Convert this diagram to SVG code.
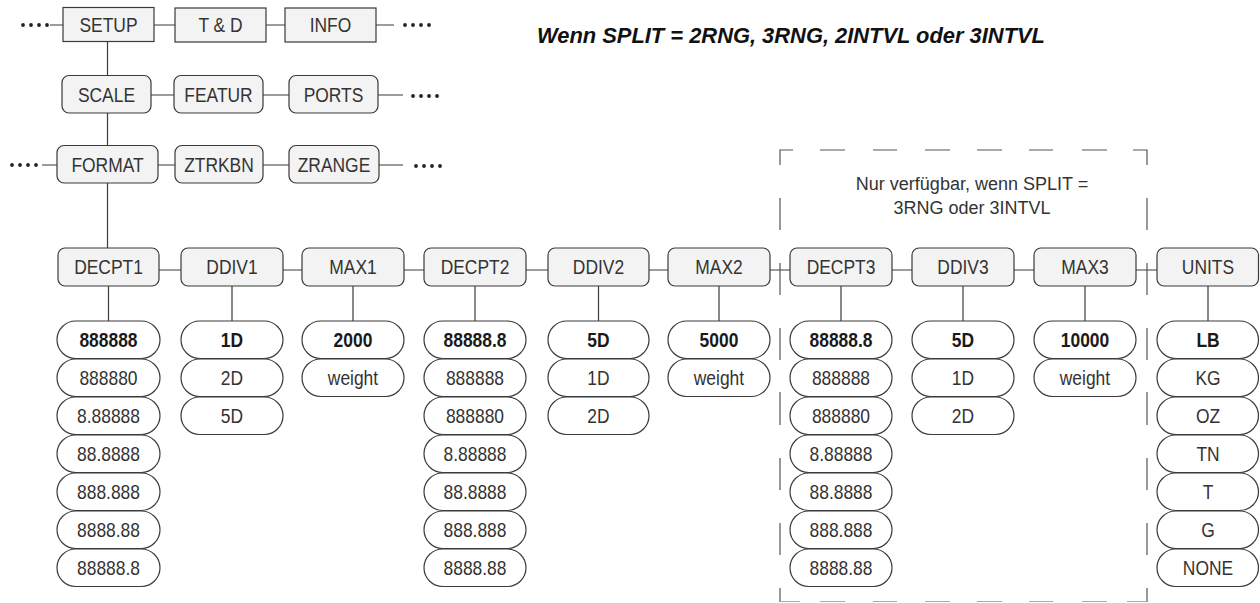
<svg xmlns="http://www.w3.org/2000/svg" width="1260" height="603" viewBox="0 0 1260 603">
<style>
.n{fill:#f3f3f3;stroke:#3a3a3a;stroke-width:1.2}
.p{fill:#fff;stroke:#3a3a3a;stroke-width:1.2}
.t{font-family:"Liberation Sans",Arial,sans-serif;font-size:20.5px;fill:#333;text-anchor:middle;transform-box:fill-box;transform-origin:center;transform:scaleX(0.85)}
.b{font-weight:bold;fill:#1a1a1a}
.c{stroke:#3a3a3a;stroke-width:1.2;fill:none}
.d{fill:#222}
.dash{stroke:#555;stroke-width:1.2;fill:none}
.note{font-family:"Liberation Sans",Arial,sans-serif;font-size:18px;fill:#333;text-anchor:middle}
.title{font-family:"Liberation Sans",Arial,sans-serif;font-size:22.5px;font-weight:bold;font-style:italic;fill:#111}
</style>
<defs>
<g id="dots"><circle cx="0" cy="0" r="1.9"/><circle cx="8" cy="0" r="1.9"/><circle cx="16" cy="0" r="1.9"/><circle cx="24" cy="0" r="1.9"/></g>
</defs>
<rect width="1260" height="603" fill="#fff"/>
<text class="title" x="537" y="43" textLength="508" lengthAdjust="spacingAndGlyphs">Wenn SPLIT = 2RNG, 3RNG, 2INTVL oder 3INTVL</text>

<g id="connectors">
<path class="c" d="M50 25H63M154 25H175M266 25H285M376 25H394"/>
<path class="c" d="M151 95H174M263 95H289M378 95H403"/>
<path class="c" d="M42 165H57M158 165H175M263 165H289M379 165H403"/>
<path class="c" d="M107.5 41V75M107.5 113V145M107.5 183V248"/>
<path class="c" d="M159 270H181M283 270H302M404 270H424M526 270H548M649 270H668M770 270H790M892 270H912M1014 270H1034M1136 270H1157"/>
<path class="c" d="M108.5 286V321M232 286V321M353 286V321M475 286V321M598.5 286V321M719 286V321M841 286V321M963 286V321M1085 286V321M1208 286V321"/>
<g class="d">
<use href="#dots" x="23" y="25"/>
<use href="#dots" x="405" y="25"/>
<use href="#dots" x="413" y="96"/>
<use href="#dots" x="416" y="166"/>
<use href="#dots" x="12" y="165"/>
</g>
</g>

<g id="split3-box">
<path class="dash" d="M793 150H780V165M820 150H845M873 150H897M925 150H950M977 150H1002M1029 150H1053M1082 150H1107M1133 150H1147V165M780 198V230M780 263V295M780 328V360M780 392V425M780 458V490M780 523V555M780 588V602M1147 198V230M1147 263V295M1147 328V360M1147 392V425M1147 458V490M1147 523V555M1147 588V602"/>
<path d="M780 601.5H800M820 601.5H845M873 601.5H897M925 601.5H950M977 601.5H1002M1029 601.5H1053M1082 601.5H1107M1127 601.5H1147" stroke="#aaa" stroke-width="1.2"/>
<text class="note" x="972" y="190">Nur verfügbar, wenn SPLIT =</text>
<text class="note" x="972" y="214">3RNG oder 3INTVL</text>
</g>

<g id="setup"><rect class="n" x="63" y="7.5" width="91" height="34"/><text class="t" x="108.5" y="32">SETUP</text></g>
<g id="td"><rect class="n" x="175" y="8" width="91" height="34"/><text class="t" x="220.5" y="32.5">T &amp; D</text></g>
<g id="info"><rect class="n" x="285" y="8" width="91" height="34"/><text class="t" x="330.5" y="32.5">INFO</text></g>

<g id="scale"><rect class="n" x="62" y="75.5" width="89" height="37.5" rx="7"/><text class="t" x="106.5" y="102">SCALE</text></g>
<g id="featur"><rect class="n" x="174" y="75.5" width="89" height="37.5" rx="7"/><text class="t" x="218.5" y="102">FEATUR</text></g>
<g id="ports"><rect class="n" x="289" y="75.5" width="89" height="37.5" rx="7"/><text class="t" x="333.5" y="102">PORTS</text></g>

<g id="format"><rect class="n" x="57" y="145.5" width="101" height="37.5" rx="7"/><text class="t" x="107.5" y="172">FORMAT</text></g>
<g id="ztrkbn"><rect class="n" x="175" y="145.5" width="88" height="37.5" rx="7"/><text class="t" x="219" y="172">ZTRKBN</text></g>
<g id="zrange"><rect class="n" x="289" y="145.5" width="90" height="37.5" rx="7"/><text class="t" x="334" y="172">ZRANGE</text></g>

<g id="decpt1">
<rect class="n" x="58" y="248" width="101" height="38" rx="7"/><text class="t" x="108.5" y="274.5">DECPT1</text>
<rect class="p" x="57" y="321" width="103" height="37.5" rx="18.75"/><text class="t b" x="108.5" y="347">888888</text>
<rect class="p" x="57" y="359" width="103" height="37.5" rx="18.75"/><text class="t" x="108.5" y="385">888880</text>
<rect class="p" x="57" y="397" width="103" height="37.5" rx="18.75"/><text class="t" x="108.5" y="423">8.88888</text>
<rect class="p" x="57" y="435" width="103" height="37.5" rx="18.75"/><text class="t" x="108.5" y="461">88.8888</text>
<rect class="p" x="57" y="473" width="103" height="37.5" rx="18.75"/><text class="t" x="108.5" y="499">888.888</text>
<rect class="p" x="57" y="511" width="103" height="37.5" rx="18.75"/><text class="t" x="108.5" y="537">8888.88</text>
<rect class="p" x="57" y="549" width="103" height="37.5" rx="18.75"/><text class="t" x="108.5" y="575">88888.8</text>
</g>
<g id="ddiv1">
<rect class="n" x="181" y="248" width="102" height="38" rx="7"/><text class="t" x="232" y="274.5">DDIV1</text>
<rect class="p" x="181" y="321" width="102" height="37.5" rx="18.75"/><text class="t b" x="232" y="347">1D</text>
<rect class="p" x="181" y="359" width="102" height="37.5" rx="18.75"/><text class="t" x="232" y="385">2D</text>
<rect class="p" x="181" y="397" width="102" height="37.5" rx="18.75"/><text class="t" x="232" y="423">5D</text>
</g>
<g id="max1">
<rect class="n" x="302" y="248" width="102" height="38" rx="7"/><text class="t" x="353" y="274.5">MAX1</text>
<rect class="p" x="302" y="321" width="102" height="37.5" rx="18.75"/><text class="t b" x="353" y="347">2000</text>
<rect class="p" x="302" y="359" width="102" height="37.5" rx="18.75"/><text class="t" x="353" y="385">weight</text>
</g>
<g id="decpt2">
<rect class="n" x="424" y="248" width="102" height="38" rx="7"/><text class="t" x="475" y="274.5">DECPT2</text>
<rect class="p" x="424" y="321" width="102" height="37.5" rx="18.75"/><text class="t b" x="475" y="347">88888.8</text>
<rect class="p" x="424" y="359" width="102" height="37.5" rx="18.75"/><text class="t" x="475" y="385">888888</text>
<rect class="p" x="424" y="397" width="102" height="37.5" rx="18.75"/><text class="t" x="475" y="423">888880</text>
<rect class="p" x="424" y="435" width="102" height="37.5" rx="18.75"/><text class="t" x="475" y="461">8.88888</text>
<rect class="p" x="424" y="473" width="102" height="37.5" rx="18.75"/><text class="t" x="475" y="499">88.8888</text>
<rect class="p" x="424" y="511" width="102" height="37.5" rx="18.75"/><text class="t" x="475" y="537">888.888</text>
<rect class="p" x="424" y="549" width="102" height="37.5" rx="18.75"/><text class="t" x="475" y="575">8888.88</text>
</g>
<g id="ddiv2">
<rect class="n" x="548" y="248" width="101" height="38" rx="7"/><text class="t" x="598.5" y="274.5">DDIV2</text>
<rect class="p" x="548" y="321" width="101" height="37.5" rx="18.75"/><text class="t b" x="598.5" y="347">5D</text>
<rect class="p" x="548" y="359" width="101" height="37.5" rx="18.75"/><text class="t" x="598.5" y="385">1D</text>
<rect class="p" x="548" y="397" width="101" height="37.5" rx="18.75"/><text class="t" x="598.5" y="423">2D</text>
</g>
<g id="max2">
<rect class="n" x="668" y="248" width="102" height="38" rx="7"/><text class="t" x="719" y="274.5">MAX2</text>
<rect class="p" x="668" y="321" width="102" height="37.5" rx="18.75"/><text class="t b" x="719" y="347">5000</text>
<rect class="p" x="668" y="359" width="102" height="37.5" rx="18.75"/><text class="t" x="719" y="385">weight</text>
</g>
<g id="decpt3">
<rect class="n" x="790" y="248" width="102" height="38" rx="7"/><text class="t" x="841" y="274.5">DECPT3</text>
<rect class="p" x="790" y="321" width="102" height="37.5" rx="18.75"/><text class="t b" x="841" y="347">88888.8</text>
<rect class="p" x="790" y="359" width="102" height="37.5" rx="18.75"/><text class="t" x="841" y="385">888888</text>
<rect class="p" x="790" y="397" width="102" height="37.5" rx="18.75"/><text class="t" x="841" y="423">888880</text>
<rect class="p" x="790" y="435" width="102" height="37.5" rx="18.75"/><text class="t" x="841" y="461">8.88888</text>
<rect class="p" x="790" y="473" width="102" height="37.5" rx="18.75"/><text class="t" x="841" y="499">88.8888</text>
<rect class="p" x="790" y="511" width="102" height="37.5" rx="18.75"/><text class="t" x="841" y="537">888.888</text>
<rect class="p" x="790" y="549" width="102" height="37.5" rx="18.75"/><text class="t" x="841" y="575">8888.88</text>
</g>
<g id="ddiv3">
<rect class="n" x="912" y="248" width="102" height="38" rx="7"/><text class="t" x="963" y="274.5">DDIV3</text>
<rect class="p" x="912" y="321" width="102" height="37.5" rx="18.75"/><text class="t b" x="963" y="347">5D</text>
<rect class="p" x="912" y="359" width="102" height="37.5" rx="18.75"/><text class="t" x="963" y="385">1D</text>
<rect class="p" x="912" y="397" width="102" height="37.5" rx="18.75"/><text class="t" x="963" y="423">2D</text>
</g>
<g id="max3">
<rect class="n" x="1034" y="248" width="102" height="38" rx="7"/><text class="t" x="1085" y="274.5">MAX3</text>
<rect class="p" x="1034" y="321" width="102" height="37.5" rx="18.75"/><text class="t b" x="1085" y="347">10000</text>
<rect class="p" x="1034" y="359" width="102" height="37.5" rx="18.75"/><text class="t" x="1085" y="385">weight</text>
</g>
<g id="units">
<rect class="n" x="1157" y="248" width="101.5" height="38" rx="7"/><text class="t" x="1208" y="274.5">UNITS</text>
<rect class="p" x="1157" y="321" width="101.5" height="37.5" rx="18.75"/><text class="t b" x="1208" y="347">LB</text>
<rect class="p" x="1157" y="359" width="101.5" height="37.5" rx="18.75"/><text class="t" x="1208" y="385">KG</text>
<rect class="p" x="1157" y="397" width="101.5" height="37.5" rx="18.75"/><text class="t" x="1208" y="423">OZ</text>
<rect class="p" x="1157" y="435" width="101.5" height="37.5" rx="18.75"/><text class="t" x="1208" y="461">TN</text>
<rect class="p" x="1157" y="473" width="101.5" height="37.5" rx="18.75"/><text class="t" x="1208" y="499">T</text>
<rect class="p" x="1157" y="511" width="101.5" height="37.5" rx="18.75"/><text class="t" x="1208" y="537">G</text>
<rect class="p" x="1157" y="549" width="101.5" height="37.5" rx="18.75"/><text class="t" x="1208" y="575">NONE</text>
</g>
</svg>
